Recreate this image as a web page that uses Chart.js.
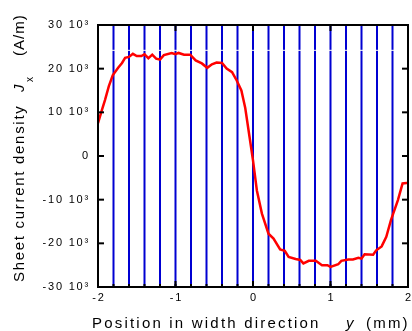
<!DOCTYPE html>
<html>
<head>
<meta charset="utf-8">
<script src="https://cdn.jsdelivr.net/npm/chart.js@4/dist/chart.umd.min.js"></script>
<style>
  html, body { margin: 0; padding: 0; background: #fff; }
  #wrap { width: 412px; height: 331px; position: relative; }
</style>
</head>
<body>
<div id="wrap"><canvas id="jxChart"></canvas></div>
<script>
// position across the strip width (mm)
const posY = [-2.0, -1.95, -1.91, -1.86, -1.81, -1.74, -1.69, -1.65, -1.60, -1.55,
  -1.50, -1.44, -1.40, -1.35, -1.30, -1.25, -1.20, -1.15, -1.05, -1.00,
  -0.96, -0.89, -0.81, -0.74, -0.66, -0.59, -0.53, -0.47, -0.40, -0.34,
  -0.27, -0.21, -0.15, -0.10, -0.045, 0.0, 0.05, 0.115, 0.20, 0.265,
  0.35, 0.41, 0.46, 0.55, 0.61, 0.65, 0.72, 0.81, 0.89, 0.96,
  1.00, 1.10, 1.14, 1.23, 1.29, 1.36, 1.40, 1.44, 1.55, 1.59,
  1.66, 1.72, 1.78, 1.87, 1.93, 1.98, 2.0];
// sheet current density Jx (10^3 A/m)
const jx = [7.5, 10.5, 12.8, 16.0, 18.5, 20.2, 21.3, 22.5, 22.7, 23.4,
  22.9, 22.9, 23.3, 22.4, 23.2, 22.3, 22.1, 23.1, 23.6, 23.3,
  23.6, 23.2, 23.2, 21.9, 21.2, 20.2, 21.0, 21.4, 21.3, 20.0,
  19.2, 17.3, 15.0, 11.0, 4.4, -1.0, -7.9, -13.2, -17.8, -18.9,
  -21.4, -21.7, -23.1, -23.6, -23.8, -24.6, -24.0, -24.0, -25.0, -25.0,
  -25.4, -24.8, -24.0, -23.7, -23.7, -23.3, -23.5, -22.5, -22.6, -21.6,
  -20.7, -18.5, -14.7, -10.1, -6.3, -6.2, -6.2];

// filament / strip boundaries (mm)
const stripX = [-1.8, -1.6, -1.4, -1.2, -1.0, -0.8, -0.6, -0.4, -0.2, 0.0,
  0.2, 0.4, 0.6, 0.8, 1.0, 1.2, 1.4, 1.6, 1.8];
const whiteMark = 24.2;

const xTicks = [-2, -1, 0, 1, 2];
const xTickLabels = ['-2', '-1', '0', '1', '2'];
const yTicks = [-30, -20, -10, 0, 10, 20, 30];
const yTickLabels = ['-30 10³', '-20 10³', '-10 10³', '0', '10 10³', '20 10³', '30 10³'];

const FONT = '"Liberation Sans", Arial, sans-serif';

const datasets = [{
  data: posY.map((v, i) => ({ x: v, y: jx[i] })),
  borderColor: '#ff0000',
  borderWidth: 2.5,
  pointRadius: 0,
  tension: 0,
  order: 0
}, {
  data: [{ x: -2, y: whiteMark }, { x: 2, y: whiteMark }],
  borderColor: '#ffffff',
  borderWidth: 1,
  pointRadius: 0,
  order: 1
}];
stripX.forEach(v => datasets.push({
  data: [{ x: v, y: -30 }, { x: v, y: 30 }],
  borderColor: '#0000d2',
  borderWidth: 2,
  pointRadius: 0,
  order: 2
}));

function seg(ctx, x1, y1, x2, y2) {
  ctx.beginPath();
  ctx.moveTo(x1, y1);
  ctx.lineTo(x2, y2);
  ctx.stroke();
}

// inward ticks, frame and all the text
const decor = {
  id: 'decor',
  afterDatasetsDraw(chart) {
    const { ctx, chartArea: a, scales: { x, y } } = chart;
    ctx.save();
    ctx.strokeStyle = '#000';
    ctx.lineWidth = 2;
    stripX.forEach(v => {
      const px = x.getPixelForValue(v);
      seg(ctx, px, a.bottom, px, a.bottom - 3);
    });
    xTicks.forEach(v => {
      const px = x.getPixelForValue(v);
      seg(ctx, px, a.bottom, px, a.bottom - 6);
      seg(ctx, px, a.top, px, a.top + 6);
    });
    yTicks.forEach(v => {
      const py = y.getPixelForValue(v);
      seg(ctx, a.left, py, a.left + 6, py);
      seg(ctx, a.right, py, a.right - 6, py);
    });
    ctx.strokeRect(a.left, a.top, a.width, a.height);

    ctx.fillStyle = '#000';
    ctx.font = '11px ' + FONT;
    ctx.letterSpacing = '1.8px';
    ctx.textAlign = 'right';
    ctx.textBaseline = 'middle';
    yTicks.forEach((v, i) => {
      ctx.fillText(yTickLabels[i], 90, y.getPixelForValue(v));
    });
    ctx.textAlign = 'center';
    ctx.textBaseline = 'alphabetic';
    xTicks.forEach((v, i) => {
      ctx.fillText(xTickLabels[i], x.getPixelForValue(v) + 1, 301);
    });

    // x axis title
    ctx.textAlign = 'left';
    ctx.font = '15px ' + FONT;
    ctx.letterSpacing = '2.2px';
    ctx.fillText('Position in width direction', 92, 328);
    ctx.font = 'italic 15px ' + FONT;
    ctx.fillText('y', 346, 328);
    ctx.font = '15px ' + FONT;
    ctx.fillText('(mm)', 366, 328);

    // y axis title
    ctx.translate(24, 282);
    ctx.rotate(-Math.PI / 2);
    ctx.letterSpacing = '1.7px';
    ctx.fillText('Sheet current density', 0, 0);
    ctx.font = 'italic 15px ' + FONT;
    ctx.fillText('J', 190, 0);
    ctx.font = '10px ' + FONT;
    ctx.letterSpacing = '0px';
    ctx.fillText('x', 200, 9);
    ctx.font = '15px ' + FONT;
    ctx.letterSpacing = '1px';
    ctx.fillText('(A/m)', 226, 0);
    ctx.restore();
  }
};

new Chart(document.getElementById('jxChart'), {
  type: 'line',
  data: { datasets },
  options: {
    responsive: true,
    maintainAspectRatio: false,
    animation: false,
    events: [],
    layout: { padding: { top: 25, right: 4, left: 0, bottom: 0 } },
    plugins: { legend: { display: false }, tooltip: { enabled: false } },
    scales: {
      x: {
        type: 'linear', min: -2, max: 2,
        grid: { display: false }, border: { display: false },
        ticks: { display: false },
        afterFit: s => { s.height = 44; }
      },
      y: {
        type: 'linear', min: -30, max: 30,
        grid: { display: false }, border: { display: false },
        ticks: { display: false },
        afterFit: s => { s.width = 98; }
      }
    }
  },
  plugins: [decor]
});
</script>
</body>
</html>
